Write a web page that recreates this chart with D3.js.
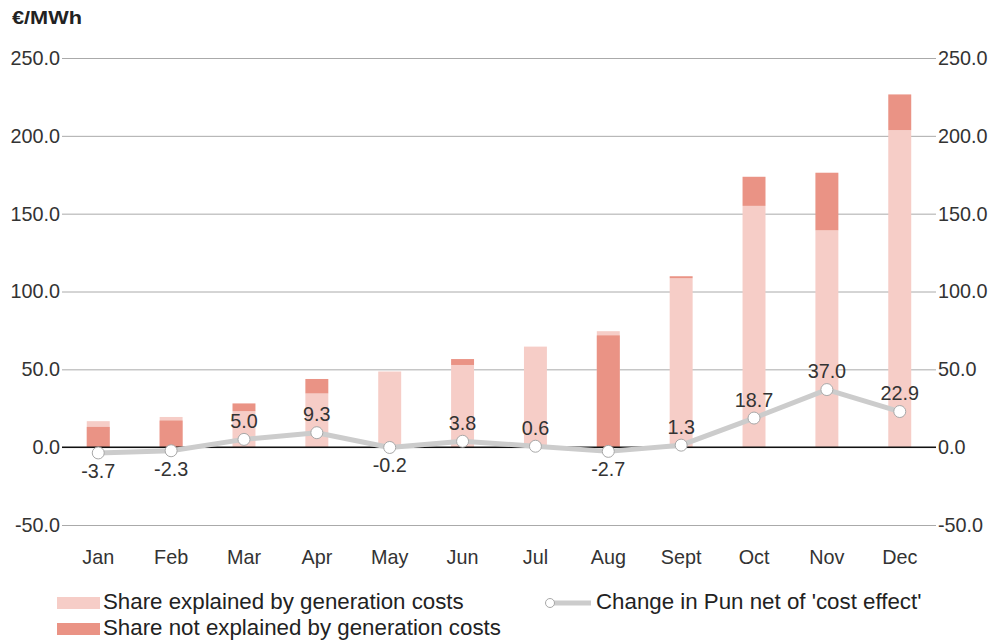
<!DOCTYPE html>
<html><head><meta charset="utf-8">
<script src="https://cdn.jsdelivr.net/npm/d3@7"></script>
<style>body{margin:0;background:#fff;}svg{display:block;font-family:"Liberation Sans",Arial,sans-serif;}</style>
</head><body><svg id="c" width="988" height="643"></svg>
<script>
const months = ["Jan","Feb","Mar","Apr","May","Jun","Jul","Aug","Sept","Oct","Nov","Dec"];
// light bar: share explained by generation costs (top value)
const explained = [16.7,19.4,23.1,34.5,48.6,52.8,64.6,74.5,108.5,155.0,139.3,203.7];
// dark bar: share not explained (range low -> high)
const unexplainedLow  = [0,0,23.1,34.5,0,52.8,0,0,108.5,155.0,139.3,203.7];
const unexplainedHigh = [13.0,17.1,28.1,43.8,0,56.6,0,71.8,109.8,173.7,176.3,226.6];
const netChange = [-3.7,-2.3,5.0,9.3,-0.2,3.8,0.6,-2.7,1.3,18.7,37.0,22.9];
const yTicks = [-50,0,50,100,150,200,250];
const seriesNames = ["Share explained by generation costs","Share not explained by generation costs","Change in Pun net of 'cost effect'"];
const colors = {light:"#f6cdc7", dark:"#ea9385", line:"#cccccc"};

const svg = d3.select("#c");
const x = d3.scaleBand().domain(months).range([62,936]).paddingInner(0.685).paddingOuter(0.34);
const y = d3.scaleLinear().domain([-50,250]).range([525,58]);
const fmt = v => d3.format(".1f")(v).replace("\u2212","-");
const FS = 19.8;

// grid + axes
const gl = d3.axisLeft(y).tickValues(yTicks).tickFormat(fmt).tickSize(-(936-62)).tickPadding(2);
const gAx = svg.append("g").attr("transform","translate(62,0)").call(gl);
gAx.select(".domain").remove();
gAx.selectAll(".tick line").attr("stroke","#aaaaaa").attr("stroke-width",1);
gAx.selectAll(".tick text").attr("font-size",FS).attr("fill","#333").attr("font-family","Liberation Sans, Arial, sans-serif");
const gr = d3.axisRight(y).tickValues(yTicks).tickFormat(fmt).tickSize(0).tickPadding(2);
const gAxR = svg.append("g").attr("transform","translate(936,0)").call(gr);
gAxR.select(".domain").remove();
gAxR.selectAll(".tick text").attr("font-size",FS).attr("fill","#333").attr("font-family","Liberation Sans, Arial, sans-serif");

// bars
const bars = svg.append("g");
bars.selectAll("rect.light").data(months).join("rect").attr("class","light")
  .attr("x",d=>x(d)).attr("width",x.bandwidth())
  .attr("y",(d,i)=>y(explained[i])).attr("height",(d,i)=>y(0)-y(explained[i])).attr("fill",colors.light);
bars.selectAll("rect.dark").data(months).join("rect").attr("class","dark")
  .attr("x",d=>x(d)).attr("width",x.bandwidth())
  .attr("y",(d,i)=>y(unexplainedHigh[i])).attr("height",(d,i)=>Math.max(0,y(unexplainedLow[i])-y(unexplainedHigh[i]))).attr("fill",colors.dark);

// zero line
svg.append("line").attr("x1",62).attr("x2",936).attr("y1",y(0)).attr("y2",y(0)).attr("stroke","#111").attr("stroke-width",1.5);

// x labels
svg.append("g").selectAll("text").data(months).join("text")
  .attr("x",d=>x(d)+x.bandwidth()/2).attr("y",564).attr("text-anchor","middle")
  .attr("font-size",FS).attr("fill","#333").text(d=>d);

// line
const cx = d=>x(d)+x.bandwidth()/2;
const line = d3.line().x((d,i)=>cx(months[i])).y(d=>y(d));
svg.append("path").datum(netChange).attr("d",line).attr("fill","none")
  .attr("stroke",colors.line).attr("stroke-width",5).attr("stroke-linejoin","round");
svg.append("g").selectAll("circle").data(netChange).join("circle")
  .attr("cx",(d,i)=>cx(months[i])).attr("cy",d=>y(d)).attr("r",6)
  .attr("fill","#fff").attr("stroke","#a8a8a8").attr("stroke-width",1);
svg.append("g").selectAll("text").data(netChange).join("text")
  .attr("x",(d,i)=>cx(months[i])).attr("y",d=>d>=0?y(d)-11.5:y(d)+25)
  .attr("text-anchor","middle").attr("font-size",FS).attr("fill","#333").text(d=>fmt(d));

// title
svg.append("text").attr("x",12).attr("y",24).attr("font-size",18).attr("font-weight","bold").attr("fill","#222")
  .attr("textLength",70).attr("lengthAdjust","spacingAndGlyphs").text("€/MWh");

// legend
const LFS = 22.3;
const lg = svg.append("g");
lg.append("rect").attr("x",57).attr("y",597).attr("width",43).attr("height",12).attr("fill",colors.light);
lg.append("text").attr("x",103).attr("y",609).attr("font-size",LFS).attr("fill","#222").text(seriesNames[0]);
lg.append("rect").attr("x",57).attr("y",623).attr("width",43).attr("height",12).attr("fill",colors.dark);
lg.append("text").attr("x",103).attr("y",635).attr("font-size",LFS).attr("fill","#222").text(seriesNames[1]);
lg.append("line").attr("x1",550).attr("x2",591).attr("y1",603).attr("y2",603).attr("stroke",colors.line).attr("stroke-width",5);
lg.append("circle").attr("cx",550).attr("cy",603).attr("r",4.5).attr("fill","#fff").attr("stroke","#a8a8a8");
lg.append("text").attr("x",596).attr("y",609).attr("font-size",LFS).attr("fill","#222").text(seriesNames[2]);
</script></body></html>
